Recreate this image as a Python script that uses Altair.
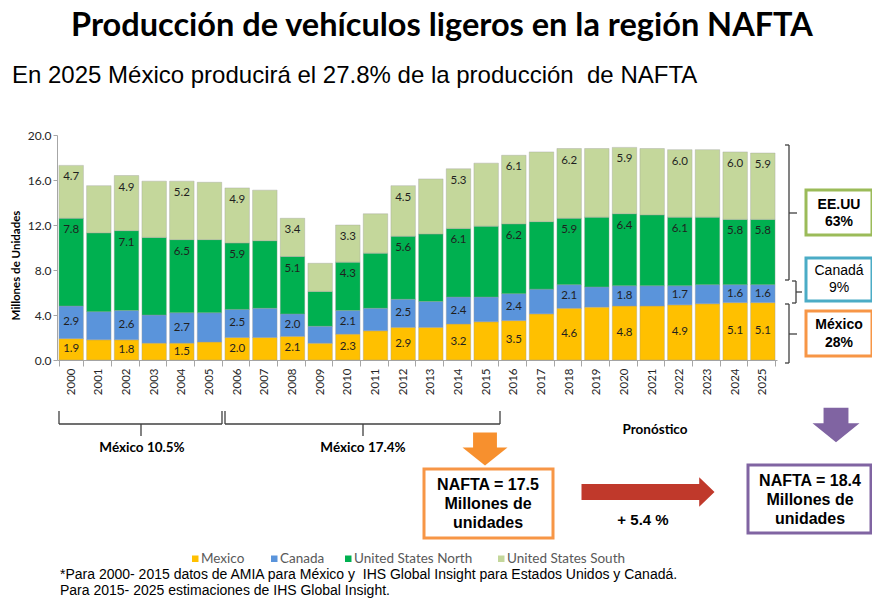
import pandas as pd
import altair as alt

years = [str(y) for y in range(2000, 2026)]
series = ['Mexico', 'Canada', 'United States North', 'United States South']
colors = ['#FFC000', '#5A94DB', '#00B050', '#C4D79B']

mexico = [1.9, 1.8, 1.8, 1.5, 1.5, 1.6, 2.0, 2.0, 2.1, 1.5, 2.3, 2.6, 2.9,
          2.9, 3.2, 3.4, 3.5, 4.1, 4.6, 4.7, 4.8, 4.8, 4.9, 5.0, 5.1, 5.1]
canada = [2.9, 2.5, 2.6, 2.5, 2.7, 2.6, 2.5, 2.6, 2.0, 1.5, 2.1, 2.0, 2.5,
          2.3, 2.4, 2.2, 2.4, 2.2, 2.1, 1.8, 1.8, 1.8, 1.7, 1.7, 1.6, 1.6]
us_north = [7.8, 7.0, 7.1, 6.9, 6.5, 6.5, 5.9, 6.0, 5.1, 3.1, 4.3, 4.9, 5.6,
            6.0, 6.1, 6.3, 6.2, 6.0, 5.9, 6.2, 6.4, 6.3, 6.1, 6.0, 5.8, 5.8]
us_south = [4.7, 4.2, 4.9, 5.0, 5.2, 5.1, 4.9, 4.5, 3.4, 2.5, 3.3, 3.5, 4.5,
            4.9, 5.3, 5.6, 6.1, 6.2, 6.2, 6.1, 5.9, 5.9, 6.0, 6.0, 6.0, 5.9]
# years that carry value labels in the original
labeled = ['2000', '2002', '2004', '2006', '2008', '2010', '2012', '2014',
           '2016', '2018', '2020', '2022', '2024', '2025']

# long table with stacked bounds
rows = []
for i, yr in enumerate(years):
    base = 0.0
    for k, (name, vals) in enumerate(zip(series, [mexico, canada, us_north, us_south])):
        v = vals[i]
        rows.append({'year': yr, 'serie': name, 'ord': k, 'value': v,
                     'y0': base, 'y1': base + v, 'mid': base + v / 2,
                     'lab': f'{v:.1f}' if yr in labeled else ''})
        base += v
df = pd.DataFrame(rows)

# plot origin in page pixels (used for the annotations)
OX, OY = 57, 135
W, H = 720, 225
SP = ' \u00a0'  # double space that svg does not collapse

xenc = alt.X('year:N', title=None, sort=years,
             scale=alt.Scale(paddingInner=0.115, paddingOuter=0.07),
             axis=alt.Axis(labelAngle=-90, labelFont='Lato', labelFontSize=11.5,
                           labelColor='#262626', domainColor='#a6a6a6',
                           tickColor='#a6a6a6', tickBand='extent', tickSize=6,
                           labelPadding=2))

bars = alt.Chart(df).mark_bar(stroke='#9a9a9a', strokeWidth=0.6, strokeOpacity=0.6).encode(
    x=xenc,
    y=alt.Y('y1:Q', scale=alt.Scale(domain=[0, 20], nice=False),
            axis=alt.Axis(values=list(range(0, 21, 2)), format='.1f', grid=False,
                          labelFont='Lato', labelFontSize=12, labelColor='#262626',
                          domainColor='#a6a6a6', tickColor='#a6a6a6', tickSize=4,
                          title='Millones de Unidades', titleFont='Lato',
                          titleFontSize=11.5, titleFontWeight='bold', titleColor='#000',
                          titleAngle=-90, titleX=-41, titleY=130,
                          titleAlign='center', titleBaseline='middle')),
    y2='y0:Q',
    color=alt.Color('serie:N', scale=alt.Scale(domain=series, range=colors), legend=None)
)

txt_style = dict(font='Lato', fontSize=11.5, color='#1f1f1f', baseline='middle')
lab_low = alt.Chart(df[df.ord < 2]).mark_text(**txt_style).encode(
    x=alt.X('year:N', sort=years), y='mid:Q', text='lab:N')
lab_top = alt.Chart(df[df.ord >= 2]).mark_text(dy=12, **txt_style).encode(
    x=alt.X('year:N', sort=years), y='y1:Q', text='lab:N')


def note(t, x, y, size, font='Liberation Sans', weight='normal', align='center',
         color='#000', lh=None, baseline='middle'):
    return alt.Chart(pd.DataFrame({'t': [t]})).mark_text(
        align=align, baseline=baseline, fontSize=size, font=font, fontWeight=weight,
        color=color, lineBreak='\n', lineHeight=lh or size * 1.2
    ).encode(x=alt.value(x - OX), y=alt.value(y - OY), text='t:N')


def seg(x1, y1, x2, y2, color='#404040', w=1.3):
    return alt.Chart(pd.DataFrame({'a': [0]})).mark_rule(color=color, strokeWidth=w).encode(
        x=alt.value(x1 - OX), y=alt.value(y1 - OY), x2=alt.value(x2 - OX), y2=alt.value(y2 - OY))


def box(x1, y1, x2, y2, color, fill='white', w=3):
    return alt.Chart(pd.DataFrame({'a': [0]})).mark_rect(
        fill=fill, stroke=color, strokeWidth=w).encode(
        x=alt.value(x1 - OX), y=alt.value(y1 - OY), x2=alt.value(x2 - OX), y2=alt.value(y2 - OY))


def arrow(path, x, y, width, color):
    return alt.Chart(pd.DataFrame({'a': [0]})).mark_point(
        shape=path, filled=True, size=width * width, color=color, opacity=1, strokeWidth=0
    ).encode(x=alt.value(x - OX), y=alt.value(y - OY))


down = 'M -0.53 -0.73 L 0.53 -0.73 L 0.53 -0.07 L 1 -0.07 L 0 0.73 L -1 -0.07 L -0.53 -0.07 Z'
right = 'M -1 -0.12 L 0.77 -0.12 L 0.77 -0.22 L 1 0 L 0.77 0.22 L 0.77 0.12 L -1 0.12 Z'


def vbrace(x, y1, y2, ym, tip):
    return [seg(x, y1, x, y2), seg(x - 4, y1, x, y1), seg(x - 4, y2, x, y2), seg(x, ym, tip, ym)]


def hbrace(x1, x2, y, xm):
    return [seg(x1, y - 13, x1, y), seg(x2, y - 13, x2, y), seg(x1, y, x2, y), seg(xm, y, xm, y + 12)]


# hand-placed legend (symbol left edge per entry)
legend = []
for name, col, lx in zip(series, colors, [192, 271, 345, 498]):
    legend.append(box(lx, 555.5, lx + 6.5, 562, col, fill=col, w=0))
    legend.append(note(name, lx + 9, 559, 13.5, font='Lato', align='left', color='#595959'))

footnote = ('*Para 2000- 2015 datos de AMIA para México y' + SP +
            'IHS Global Insight para Estados Unidos y Canadá.\n'
            '\u00a0Para 2015- 2025 estimaciones de IHS Global Insight.')

notes = [
    note('Producción de vehículos ligeros en la región NAFTA', 442, 36, 32.5, font='Lato',
         weight='bold', baseline='alphabetic'),
    note('En 2025 México producirá el 27.8% de la producción' + SP + 'de NAFTA', 12, 76, 24,
         align='left'),
    box(806, 190, 872, 235, '#9BBB59'),
    note('EE.UU\n63%', 839, 205, 14, weight='bold', lh=17),
    box(806, 258, 872, 301, '#4BACC6'),
    note('Canadá\n9%', 839, 271, 14, lh=17),
    box(806, 311, 872, 356, '#F79646'),
    note('México\n28%', 839, 325, 14, weight='bold', lh=18),
    note('México 10.5%', 142, 448, 13.5, font='Lato', weight='bold'),
    note('México 17.4%', 363, 448, 13.5, font='Lato', weight='bold'),
    note('Pronóstico', 655, 430, 13.5, font='Lato', weight='bold'),
    arrow(down, 485, 449, 45, '#F7902E'),
    arrow(down, 836, 425, 47, '#8064A2'),
    arrow(right, 648, 492, 133, '#C0392B'),
    box(424, 469, 553, 538, '#F79646'),
    note('NAFTA = 17.5\nMillones de\nunidades', 488, 485, 16, weight='bold', lh=19),
    box(748, 465, 871, 533, '#8064A2'),
    note('NAFTA = 18.4\nMillones de\nunidades', 810, 481, 16, weight='bold', lh=19),
    note('+ 5.4 %', 643, 520, 15, weight='bold'),
    note(footnote, 60, 575, 14, align='left', lh=15.5),
]
notes += legend
notes += vbrace(789, 145, 280, 213, 797)
notes += vbrace(796, 281, 303, 292, 802)
notes += vbrace(789, 304, 363, 334, 797)
notes += hbrace(59, 222, 424, 141)
notes += hbrace(225, 500, 424, 363)

chart = alt.layer(bars, lab_low, lab_top, *notes).properties(
    width=W, height=H,
    autosize=alt.AutoSizeParams(type='none'),
    padding={'left': OX - 8, 'top': OY - 8, 'right': 865 - (OX - 8) - W - 1,
             'bottom': 591 - (OY - 8) - H - 1}
).configure_view(stroke=None)

chart.save('out.html', embed_options={'renderer': 'svg', 'actions': False})
